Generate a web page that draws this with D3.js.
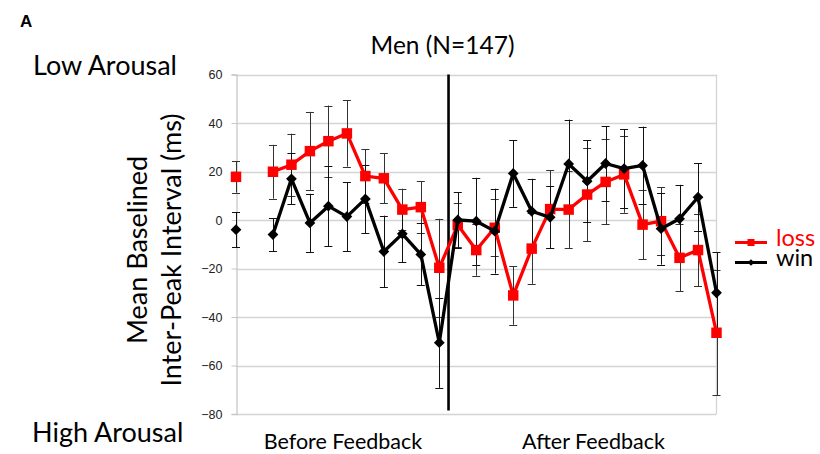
<!DOCTYPE html>
<html>
<head>
<meta charset="utf-8">
<script src="https://cdn.jsdelivr.net/npm/d3@7"></script>
<style>
  body { margin: 0; background: #fff; }
  svg { display: block; }
</style>
</head>
<body>
<div id="chart"></div>
<script>
// time bins, 0-11 before feedback, 12-26 after (bin 1 has no data)
var bins = d3.range(27);
var yTicks = [60, 40, 20, 0, -20, -40, -60, -80];

var loss = [17.8, null, 19.9, 22.8, 28.4, 32.5, 35.7, 18.1, 17.2, 4.3, 5.3, -19.7,
            -2.1, -12.4, -3.2, -31.1, -11.8, 4.5, 4.3, 10.5, 15.7, 18.8, -1.9, -0.5, -15.6, -12.4, -46.5];
var lossErr = [6.5, null, 11.1, 12.8, 16.2, 14.7, 13.7, 11.1, 10.3, 8.6, 10.6, 20.2,
               9.2, 10.6, 11.7, 12.1, 14.5, 16, 15.8, 19.3, 17.5, 15.8, 14.2, 14, 13.8, 15, 25.8];
var win = [-4.0, null, -6.0, 17.0, -1.2, 5.7, 1.4, 8.7, -13.0, -5.7, -14.2, -50.6,
           0, -0.5, -4.6, 19.2, 3.6, 1.1, 23.1, 16.0, 23.3, 21.2, 22.5, -3.6, 0.5, 9.4, -30.0];
var winErr = [7.2, null, 6.8, 10.5, 12, 16.5, 14.2, 14.1, 14.8, 11.8, 12.8, 18.6,
              11.5, 17.9, 17.5, 13.8, 13.4, 12.8, 18.3, 16.8, 15.3, 16.3, 16, 14.8, 14, 14, 16.7];

var w = 820, h = 454;
var lato = "Lato, 'Open Sans', sans-serif";

var svg = d3.select("#chart").append("svg")
  .attr("width", w)
  .attr("height", h);

var xScale = d3.scalePoint()
  .domain(bins)
  .range([236, 716.5])
  .padding(0);

var yScale = d3.scaleLinear()
  .domain([-80, 60])
  .range([414, 74.5]);

// gridlines
svg.append("g")
  .selectAll("line")
  .data(yTicks)
  .enter()
  .append("line")
  .attr("x1", 236)
  .attr("x2", 716.5)
  .attr("y1", function(d) { return Math.round(yScale(d)) + 0.5; })
  .attr("y2", function(d) { return Math.round(yScale(d)) + 0.5; })
  .attr("stroke", "#d4d4d4")
  .attr("stroke-width", 1.3);

// right border
svg.append("line")
  .attr("x1", 716.5).attr("x2", 716.5)
  .attr("y1", yScale(60)).attr("y2", yScale(-80))
  .attr("stroke", "#d4d4d4")
  .attr("stroke-width", 1.3);

// y axis
var yAxis = d3.axisLeft(yScale)
  .tickValues(yTicks)
  .tickSize(5)
  .tickPadding(9)
  .tickFormat(d3.format("d"));

var gy = svg.append("g")
  .attr("transform", "translate(236.5,0)")
  .call(yAxis);
gy.select(".domain").attr("stroke", "#c8c8c8").attr("stroke-width", 1.3);
gy.selectAll(".tick line").attr("stroke", "#c8c8c8");
gy.selectAll(".tick text")
  .attr("font-family", "'Liberation Sans', Arial, sans-serif")
  .attr("font-size", "12.5px")
  .attr("fill", "#222");

// divider between before / after feedback
var xDiv = (xScale(11) + xScale(12)) / 2;
svg.append("line")
  .attr("x1", xDiv).attr("x2", xDiv)
  .attr("y1", yScale(60)).attr("y2", 410.5)
  .attr("stroke", "#000")
  .attr("stroke-width", 2.6);

var series = [
  { name: "loss", values: loss, err: errOf(loss, lossErr), color: "#ff0000", marker: "square" },
  { name: "win", values: win, err: errOf(win, winErr), color: "#000000", marker: "diamond" }
];

function errOf(vals, errs) {
  return bins.map(function(i) {
    return vals[i] == null ? null : { i: i, v: vals[i], e: errs[i] };
  }).filter(function(d) { return d; });
}

// error bars
series.forEach(function(s) {
  var g = svg.append("g")
    .attr("stroke", s.name == "loss" ? "#333" : "#111")
    .attr("stroke-width", 1);
  var eb = g.selectAll("g")
    .data(s.err)
    .enter()
    .append("g");
  eb.append("line")
    .attr("x1", function(d) { return Math.round(xScale(d.i)) + 0.5; })
    .attr("x2", function(d) { return Math.round(xScale(d.i)) + 0.5; })
    .attr("y1", function(d) { return yScale(d.v + d.e); })
    .attr("y2", function(d) { return yScale(d.v - d.e); });
  [1, -1].forEach(function(sign) {
    eb.append("line")
      .attr("x1", function(d) { return xScale(d.i) - 4; })
      .attr("x2", function(d) { return xScale(d.i) + 4; })
      .attr("y1", function(d) { return Math.round(yScale(d.v + sign * d.e)) + 0.5; })
      .attr("y2", function(d) { return Math.round(yScale(d.v + sign * d.e)) + 0.5; });
  });
});

var line = d3.line()
  .defined(function(d) { return d != null; })
  .x(function(d, i) { return xScale(i); })
  .y(function(d) { return yScale(d); });

var squareSym = d3.symbol().type(d3.symbolSquare).size(110);
var diamondSym = d3.symbol().type(d3.symbolSquare).size(58);

series.forEach(function(s) {
  svg.append("path")
    .datum(s.values)
    .attr("d", line)
    .attr("fill", "none")
    .attr("stroke", s.color)
    .attr("stroke-width", 3.3)
    .attr("stroke-linejoin", "round");

  svg.append("g")
    .selectAll("path")
    .data(s.err)
    .enter()
    .append("path")
    .attr("d", s.marker == "square" ? squareSym : diamondSym)
    .attr("transform", function(d) {
      var t = "translate(" + xScale(d.i) + "," + yScale(d.v) + ")";
      return s.marker == "diamond" ? t + " rotate(45)" : t;
    })
    .attr("fill", s.color);
});

// legend
var legend = svg.append("g");
series.forEach(function(s, k) {
  var ly = 242.5 + k * 20;
  legend.append("line")
    .attr("x1", 735).attr("x2", 767)
    .attr("y1", ly).attr("y2", ly)
    .attr("stroke", s.color)
    .attr("stroke-width", 3);
  legend.append("path")
    .attr("d", d3.symbol().type(d3.symbolSquare).size(s.marker == "square" ? 50 : 22))
    .attr("transform", "translate(751," + ly + ")" + (s.marker == "diamond" ? " rotate(45)" : ""))
    .attr("fill", s.color);
  legend.append("text")
    .attr("x", 776)
    .attr("y", ly + 3.5)
    .attr("font-family", lato)
    .attr("font-size", "23.5px")
    .attr("fill", s.color)
    .text(s.name);
});

// texts
svg.append("text")
  .attr("x", 20).attr("y", 27)
  .attr("font-family", "'Liberation Sans', Arial, sans-serif")
  .attr("font-weight", "bold")
  .attr("font-size", "17px")
  .text("A");

svg.append("text")
  .attr("x", 442.5).attr("y", 53.5)
  .attr("text-anchor", "middle")
  .attr("font-family", lato)
  .attr("font-size", "24.5px")
  .text("Men (N=147)");

svg.append("text")
  .attr("x", 33).attr("y", 75)
  .attr("font-family", lato)
  .attr("font-size", "27px")
  .text("Low Arousal");

svg.append("text")
  .attr("x", 32).attr("y", 442)
  .attr("font-family", lato)
  .attr("font-size", "27px")
  .text("High Arousal");

var ylab = svg.append("text")
  .attr("transform", "translate(0,250) rotate(-90)")
  .attr("text-anchor", "middle")
  .attr("font-family", lato)
  .attr("font-size", "27px");
ylab.append("tspan").attr("x", 0).attr("y", 147).text("Mean Baselined");
ylab.append("tspan").attr("x", 0).attr("y", 181).text("Inter-Peak Interval (ms)");

svg.append("text")
  .attr("x", 343).attr("y", 449)
  .attr("text-anchor", "middle")
  .attr("font-family", lato)
  .attr("font-size", "21.5px")
  .text("Before Feedback");

svg.append("text")
  .attr("x", 593.5).attr("y", 449)
  .attr("text-anchor", "middle")
  .attr("font-family", lato)
  .attr("font-size", "21.5px")
  .text("After Feedback");
</script>
</body>
</html>
